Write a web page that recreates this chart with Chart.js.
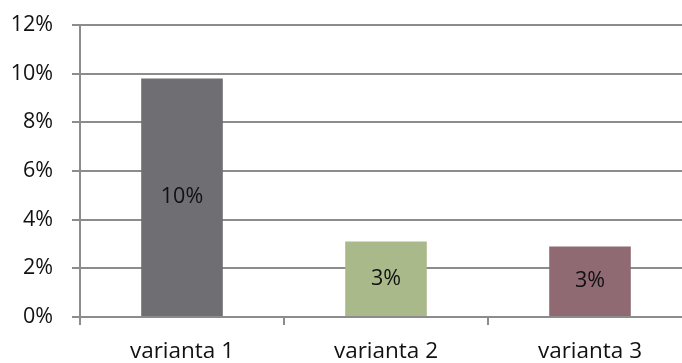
<!DOCTYPE html>
<html>
<head>
<meta charset="utf-8">
<script src="https://cdn.jsdelivr.net/npm/chart.js@4/dist/chart.umd.min.js"></script>
<style>
  html, body { margin: 0; padding: 0; background: #fff; overflow: hidden; }
  #wrap { width: 682px; height: 363px; overflow: hidden; }
  canvas { display: block; }
</style>
</head>
<body>
<div id="wrap"><canvas id="c" width="700" height="363"></canvas></div>
<script>
const categories = ['varianta 1', 'varianta 2', 'varianta 3'];
const values = [9.8, 3.1, 2.9];          // percent
const barColors = ['#6f6e73', '#a9b98a', '#8f6a73'];
const yTicks = [0, 2, 4, 6, 8, 10, 12];  // percent

const FONT = { family: '"Open Sans", sans-serif', size: 21.5 };
const XFONT = { family: '"Open Sans", sans-serif', size: 22.5 };
const GRID = '#8c8c8c';

// Value labels centred inside each bar
const barLabels = {
  id: 'barLabels',
  afterDatasetsDraw(chart) {
    const ctx = chart.ctx;
    const meta = chart.getDatasetMeta(0);
    ctx.save();
    ctx.font = `${FONT.size}px ${FONT.family}`;
    ctx.fillStyle = '#111';
    ctx.textAlign = 'center';
    ctx.textBaseline = 'middle';
    meta.data.forEach((bar, i) => {
      const y = (bar.y + bar.base) / 2;
      ctx.fillText(Math.round(values[i]) + '%', bar.x, y);
    });
    ctx.restore();
  }
};

new Chart(document.getElementById('c'), {
  type: 'bar',
  data: {
    labels: categories,
    datasets: [{
      data: values,
      backgroundColor: barColors,
      borderWidth: 0,
      categoryPercentage: 0.4,
      barPercentage: 1
    }]
  },
  options: {
    responsive: false,
    animation: false,
    devicePixelRatio: 1,
    layout: { padding: { top: 25, right: 8, bottom: 0, left: 0 } },
    plugins: { legend: { display: false }, tooltip: { enabled: false } },
    scales: {
      x: {
        grid: {
          display: true, drawOnChartArea: false, offset: true,
          color: GRID, tickColor: GRID, tickLength: 8, lineWidth: 2
        },
        border: { display: true, color: GRID, width: 2 },
        ticks: { color: '#111', font: XFONT, padding: 13, maxRotation: 0 },
        afterFit(scale) { scale.height = 46; scale.paddingLeft = 0; scale.paddingRight = 0; }
      },
      y: {
        min: 0,
        max: 12,
        afterBuildTicks(scale) { scale.ticks = yTicks.map(v => ({ value: v })); },
        grid: { color: GRID, tickColor: GRID, tickLength: 8, lineWidth: 2 },
        border: { display: true, color: GRID, width: 2 },
        ticks: {
          color: '#111', font: FONT, padding: 19,
          callback: v => v + '%'
        },
        afterFit(scale) { scale.width = 80; scale.paddingTop = 0; scale.paddingBottom = 0; }
      }
    }
  },
  plugins: [barLabels]
});
</script>
</body>
</html>
